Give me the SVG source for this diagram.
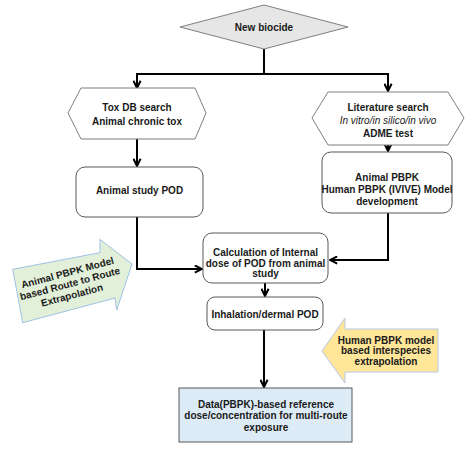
<svg xmlns="http://www.w3.org/2000/svg" width="475" height="449" viewBox="0 0 475 449">
<defs>
<marker id="arr" viewBox="0 0 10 10" refX="9" refY="5" markerWidth="4.5" markerHeight="4.5" orient="auto" markerUnits="strokeWidth">
<path d="M1,1 L9,5 L1,9" fill="none" stroke="#000" stroke-width="2.2"/>
</marker>
<style>
text{font-family:"Liberation Sans",Arial,sans-serif;font-size:10px;font-weight:bold;fill:#1a1a1a;text-anchor:middle}
.shape{fill:#fff;stroke:#7f7f7f;stroke-width:1}
.box{fill:#fff;stroke:#595959;stroke-width:1}
.conn{fill:none;stroke:#000;stroke-width:2}
.it{font-style:italic;font-weight:normal}
</style>
</defs>
<rect width="475" height="449" fill="#fff"/>
<g id="connectors">
<path class="conn" d="M264,49 V74"/>
<path class="conn" d="M137,74 H388"/>
<path class="conn" d="M137,73 V88" marker-end="url(#arr)"/>
<path class="conn" d="M388,73 V91" marker-end="url(#arr)"/>
<path class="conn" d="M137,139 V166" marker-end="url(#arr)"/>
<path class="conn" d="M388,145 V151" marker-end="url(#arr)"/>
<path class="conn" d="M137,217 V269 H202" marker-end="url(#arr)"/>
<path class="conn" d="M388,213 V260 H330" marker-end="url(#arr)"/>
<path class="conn" d="M265,283 V296" marker-end="url(#arr)"/>
<path class="conn" d="M264,330 V387" marker-end="url(#arr)"/>
</g>
<g id="new-biocide">
<polygon points="180,27 264,5 348,27 264,49" fill="#e7e6e6" stroke="#7f7f7f"/>
<text x="264" y="31" font-size="12">New biocide</text>
</g>
<g id="tox-db">
<polygon class="shape" points="68,113 81,88 195,88 206,113 195,139 81,139"/>
<text x="137" y="110.5">Tox DB search</text>
<text x="137" y="124.5">Animal chronic tox</text>
</g>
<g id="literature">
<polygon class="shape" points="312,118 328,92 448,92 464,118 448,145 328,145"/>
<text x="388" y="110.5">Literature search</text>
<text x="388" y="123.5" class="it">In vitro/in silico/in vivo</text>
<text x="388" y="136.5">ADME test</text>
</g>
<g id="animal-pod">
<rect class="box" x="76" y="167" width="127" height="50" rx="9"/>
<text x="139.5" y="193.5">Animal study POD</text>
</g>
<g id="pbpk-dev">
<rect class="box" x="322" y="152" width="130" height="61" rx="9"/>
<text x="387" y="180.5">Animal PBPK</text>
<text x="387" y="192.5">Human PBPK (IVIVE) Model</text>
<text x="387" y="204.5">development</text>
</g>
<g id="calc">
<rect class="box" x="203" y="233" width="125" height="50" rx="9"/>
<text x="265.5" y="255.5">Calculation of Internal</text>
<text x="265.5" y="266.5">dose of POD from animal</text>
<text x="265.5" y="277">study</text>
</g>
<g id="inhalation">
<rect class="box" x="207" y="297" width="116" height="33" rx="8"/>
<text x="265" y="317.5">Inhalation/dermal POD</text>
</g>
<g id="data-rfd">
<rect x="179" y="388" width="173" height="54" fill="#ddebf7" stroke="#595959"/>
<text x="266" y="407.5" font-size="9.5">Data(PBPK)-based reference</text>
<text x="266" y="418.5" font-size="9.5">dose/concentration for multi-route</text>
<text x="266" y="430.5" font-size="9.5">exposure</text>
</g>
<g id="route-extrapolation">
<polygon points="12.7,269.3 100,252.7 100,239.3 132,264 116.7,310 115,298 22.7,322.7" fill="#e2f0d9" stroke="#9dc3e6" stroke-width="1"/>
<text font-size="8.5" transform="translate(68.3,276) rotate(-15)">Animal PBPK Model</text>
<text font-size="8.5" transform="translate(70.8,287) rotate(-15)">based Route to Route</text>
<text font-size="8.5" transform="translate(72.8,298.5) rotate(-15)">Extrapolation</text>
</g>
<g id="interspecies">
<polygon points="322,351 345,318 345,329 438,329 438,372 345,372 345,383" fill="#ffe699" stroke="#b4c7e7" stroke-width="1"/>
<text x="386" y="343.5" font-size="9.5">Human PBPK model</text>
<text x="386" y="354" font-size="9.5">based interspecies</text>
<text x="386" y="364.5" font-size="9.5">extrapolation</text>
</g>
</svg>
